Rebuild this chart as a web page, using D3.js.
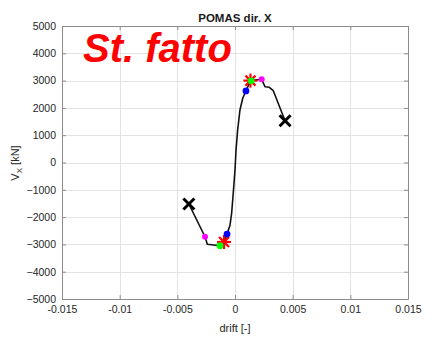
<!DOCTYPE html>
<html>
<head>
<meta charset="utf-8">
<script src="https://cdn.jsdelivr.net/npm/d3@7"></script>
<style>
  html, body { margin: 0; padding: 0; background: #fff; }
  svg { display: block; font-family: "Liberation Sans", Arial, sans-serif; }
</style>
</head>
<body>
<svg id="chart" width="436" height="340"></svg>
<script>
// Pushover capacity curve, direction X
const curveDrift = [-0.00400, -0.00260, -0.00240, -0.00130, -0.00095, -0.00069, -0.00043, -0.00029,
                    -0.00015, 0.00000, 0.00009, 0.00023, 0.00043, 0.00067, 0.00095, 0.00134,
                    0.00231, 0.00260, 0.00297, 0.00332, 0.00434];
const curveShear = [-1520, -2720, -2996, -3050, -2912, -2620, -2290, -1850,
                    -1117, -275, 458, 1190, 1923, 2352, 2620, 3000,
                    3048, 2777, 2755, 2630, 1530];

// Characteristic points (negative, positive)
const ultDrift = [-0.00400, 0.00434];
const ultShear = [-1520, 1530];
const maxDrift = [-0.00095, 0.00134];
const maxShear = [-2912, 3000];
const greenDrift = [-0.00130, 0.00140];
const greenShear = [-3050, 2990];
const blueDrift = [-0.00069, 0.00095];
const blueShear = [-2620, 2620];
const magentaDrift = [-0.00260, 0.00231];
const magentaShear = [-2720, 3048];

const xTicks = [-0.015, -0.01, -0.005, 0, 0.005, 0.01, 0.015];
const xTickLabels = ["-0.015", "-0.01", "-0.005", "0", "0.005", "0.01", "0.015"];
const yTicks = [-5000, -4000, -3000, -2000, -1000, 0, 1000, 2000, 3000, 4000, 5000];

const svg = d3.select("#chart");
const L = 62, R = 408, T = 26, B = 299;

const x = d3.scaleLinear().domain([-0.015, 0.015]).range([L, R]);
const y = d3.scaleLinear().domain([-5000, 5000]).range([B, T]);

// grid
const grid = svg.append("g").attr("stroke", "#e3e3e3").attr("stroke-width", 1);
grid.selectAll(".gx").data(xTicks).join("line")
  .attr("x1", d => Math.round(x(d)) + 0.5).attr("x2", d => Math.round(x(d)) + 0.5)
  .attr("y1", T).attr("y2", B);
grid.selectAll(".gy").data(yTicks).join("line")
  .attr("y1", d => Math.round(y(d)) + 0.5).attr("y2", d => Math.round(y(d)) + 0.5)
  .attr("x1", L).attr("x2", R);

// axes (inward ticks, box)
const axisColor = "#8c8c8c";
const xAxisB = d3.axisBottom(x).tickValues(xTicks).tickFormat((d, i) => xTickLabels[i]).tickSizeInner(-4).tickSizeOuter(0).tickPadding(7);
const xAxisT = d3.axisTop(x).tickValues(xTicks).tickFormat("").tickSizeInner(-4).tickSizeOuter(0);
const yAxisL = d3.axisLeft(y).tickValues(yTicks).tickFormat(d3.format("d")).tickSizeInner(-4).tickSizeOuter(0).tickPadding(6);
const yAxisR = d3.axisRight(y).tickValues(yTicks).tickFormat("").tickSizeInner(-4).tickSizeOuter(0);

function style(g) {
  g.selectAll("path.domain").attr("stroke", axisColor);
  g.selectAll(".tick line").attr("stroke", axisColor);
  g.selectAll("text").attr("fill", "#262626").style("font-size", "10.5px")
    .style("font-family", "'Liberation Sans', Arial, sans-serif");
}
svg.append("g").attr("transform", `translate(0,${B})`).call(xAxisB).call(style);
svg.append("g").attr("transform", `translate(0,${T})`).call(xAxisT).call(style);
svg.append("g").attr("transform", `translate(${L},0)`).call(yAxisL).call(style);
svg.append("g").attr("transform", `translate(${R},0)`).call(yAxisR).call(style);

// labels
svg.append("text").attr("x", (L + R) / 2).attr("y", 21.5).attr("text-anchor", "middle")
  .attr("font-weight", "bold").attr("font-size", "11.5px").attr("fill", "#1a1a1a").text("POMAS dir. X");
svg.append("text").attr("x", (L + R) / 2).attr("y", 332).attr("text-anchor", "middle")
  .attr("font-size", "11px").attr("fill", "#262626").text("drift [-]");
const yl = svg.append("text").attr("transform", `translate(19,163) rotate(-90)`)
  .attr("text-anchor", "middle").attr("font-size", "11px").attr("fill", "#262626");
yl.append("tspan").text("V");
yl.append("tspan").attr("font-size", "8px").attr("dy", 3).text("X");
yl.append("tspan").attr("dy", -3).text(" [kN]");

// capacity curve
const line = d3.line().x(d => x(d[0])).y(d => y(d[1]));
svg.append("path").datum(d3.zip(curveDrift, curveShear))
  .attr("d", line).attr("fill", "none").attr("stroke", "#111").attr("stroke-width", 1.6)
  .attr("stroke-linejoin", "round");

// ultimate points: black crosses
const cross = svg.append("g").attr("stroke", "#000").attr("stroke-width", 3).attr("stroke-linecap", "butt");
d3.zip(ultDrift, ultShear).forEach(([dx, dy]) => {
  const cx = x(dx), cy = y(dy), s = 5.5;
  cross.append("line").attr("x1", cx - s).attr("y1", cy - s).attr("x2", cx + s).attr("y2", cy + s);
  cross.append("line").attr("x1", cx - s).attr("y1", cy + s).attr("x2", cx + s).attr("y2", cy - s);
});

// peak points: red asterisks
const star = svg.append("g").attr("stroke", "#ff0000").attr("stroke-width", 2.2);
d3.zip(maxDrift, maxShear).forEach(([dx, dy]) => {
  const cx = x(dx), cy = y(dy), s = 7, d = 5;
  star.append("line").attr("x1", cx - s).attr("y1", cy).attr("x2", cx + s).attr("y2", cy);
  star.append("line").attr("x1", cx).attr("y1", cy - s).attr("x2", cx).attr("y2", cy + s);
  star.append("line").attr("x1", cx - d).attr("y1", cy - d).attr("x2", cx + d).attr("y2", cy + d);
  star.append("line").attr("x1", cx - d).attr("y1", cy + d).attr("x2", cx + d).attr("y2", cy - d);
});

function dots(xs, ys, color, r) {
  svg.append("g").selectAll("circle").data(d3.zip(xs, ys)).join("circle")
    .attr("cx", d => x(d[0])).attr("cy", d => y(d[1])).attr("r", r).attr("fill", color);
}
dots(greenDrift, greenShear, "#00ff00", 3.4);
dots(blueDrift, blueShear, "#0000ff", 3.4);
dots(magentaDrift, magentaShear, "#ff00ff", 3);

// annotation
svg.append("text").attr("x", 83).attr("y", 62).attr("font-size", "40px")
  .attr("font-weight", "bold").attr("font-style", "italic").attr("fill", "#ff0000")
  .style("font-family", "'Liberation Sans', Arial, sans-serif").text("St. fatto");
</script>
</body>
</html>
